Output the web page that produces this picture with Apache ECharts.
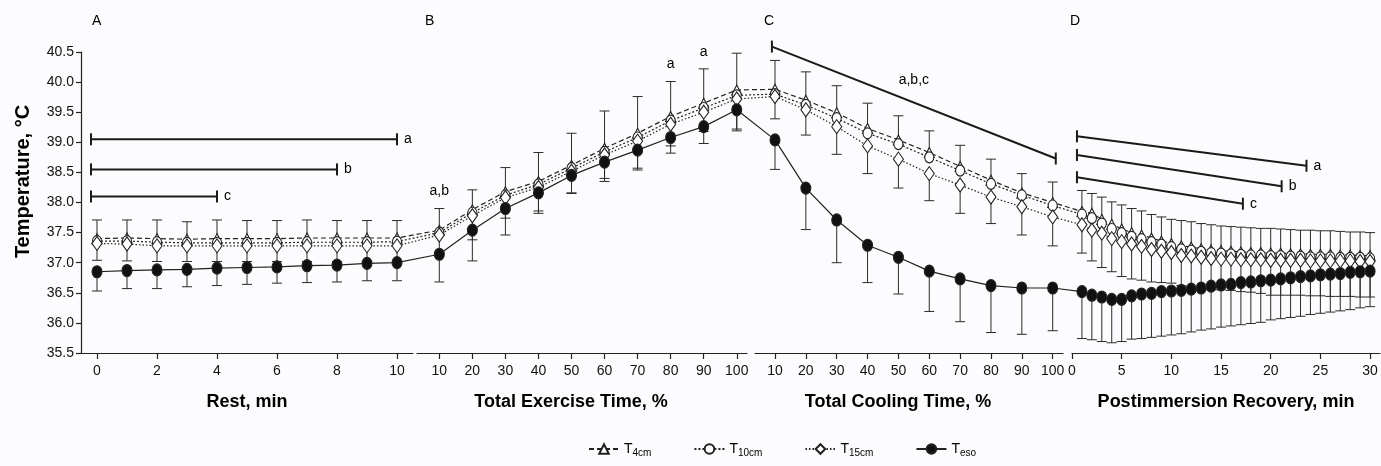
<!DOCTYPE html>
<html>
<head>
<meta charset="utf-8">
<title>Temperature</title>
<script src="https://cdn.jsdelivr.net/npm/echarts@6/dist/echarts.min.js"></script>
<style>
  html, body { margin: 0; padding: 0; background: #fcfcfe; }
  #chart { width: 1381px; height: 466px; }
</style>
</head>
<body>
<div id="chart"></div>
<script>
// x values of each phase
var restMin = [0, 1, 2, 3, 4, 5, 6, 7, 8, 9, 10];
var exercisePct = [10, 20, 30, 40, 50, 60, 70, 80, 90, 100];
var coolingPct = [10, 20, 30, 40, 50, 60, 70, 80, 90, 100];
var recoveryMin = [1, 2, 3, 4, 5, 6, 7, 8, 9, 10, 11, 12, 13, 14, 15, 16, 17, 18, 19, 20, 21, 22, 23, 24, 25, 26, 27, 28, 29, 30];

// tick labels
var restTicks = [0, 2, 4, 6, 8, 10];
var pctTicks = [10, 20, 30, 40, 50, 60, 70, 80, 90, 100];
var recoveryTicks = [0, 5, 10, 15, 20, 25, 30];

// T 4cm (error bar upward)
var t4Rest = [37.40, 37.41, 37.40, 37.39, 37.40, 37.40, 37.40, 37.41, 37.41, 37.41, 37.41];
var t4RestSd = [0.31, 0.30, 0.31, 0.29, 0.31, 0.30, 0.30, 0.30, 0.29, 0.29, 0.29];
var t4Exercise = [37.54, 37.88, 38.18, 38.35, 38.62, 38.90, 39.15, 39.43, 39.65, 39.87];
var t4ExerciseSd = [0.36, 0.33, 0.40, 0.48, 0.53, 0.62, 0.61, 0.58, 0.57, 0.61];
var t4Cooling = [39.88, 39.70, 39.49, 39.23, 39.04, 38.83, 38.60, 38.37, 38.16, 38.00];
var t4CoolingSd = [0.48, 0.47, 0.45, 0.42, 0.40, 0.36, 0.35, 0.35, 0.32, 0.34];
var t4Recovery = [37.85, 37.82, 37.72, 37.64, 37.56, 37.50, 37.46, 37.41, 37.36, 37.32, 37.28, 37.26, 37.23, 37.21, 37.20,
  37.19, 37.18, 37.17, 37.17, 37.16, 37.16, 37.15, 37.15, 37.14, 37.14, 37.14, 37.13, 37.13, 37.12, 37.12];
var t4RecoverySd = [0.35, 0.33, 0.37, 0.37, 0.40, 0.40, 0.40, 0.39, 0.40, 0.40, 0.42, 0.42, 0.42, 0.42, 0.41,
  0.41, 0.41, 0.41, 0.40, 0.41, 0.40, 0.40, 0.39, 0.40, 0.39, 0.39, 0.39, 0.38, 0.39, 0.38];

// T 10cm
var t10Rest = [37.36, 37.36, 37.34, 37.33, 37.33, 37.33, 37.33, 37.34, 37.34, 37.34, 37.35];
var t10Exercise = [37.50, 37.83, 38.12, 38.30, 38.57, 38.84, 39.08, 39.36, 39.57, 39.78];
var t10Cooling = [39.80, 39.62, 39.40, 39.15, 38.97, 38.75, 38.53, 38.31, 38.12, 37.95];
var t10Recovery = [37.80, 37.74, 37.65, 37.56, 37.49, 37.43, 37.39, 37.34, 37.30, 37.26, 37.22, 37.20, 37.18, 37.16, 37.15,
  37.14, 37.13, 37.12, 37.12, 37.11, 37.11, 37.10, 37.10, 37.09, 37.09, 37.09, 37.08, 37.08, 37.08, 37.07];

// T 15cm (error bar downward)
var t15Rest = [37.32, 37.31, 37.28, 37.28, 37.28, 37.28, 37.28, 37.28, 37.28, 37.28, 37.28];
var t15RestSd = [0.28, 0.28, 0.26, 0.26, 0.26, 0.26, 0.26, 0.26, 0.26, 0.26, 0.26];
var t15Exercise = [37.46, 37.78, 38.08, 38.25, 38.52, 38.79, 39.02, 39.30, 39.50, 39.72];
var t15ExerciseSd = [0.33, 0.40, 0.34, 0.39, 0.36, 0.39, 0.45, 0.36, 0.32, 0.50];
var t15Cooling = [39.76, 39.54, 39.26, 38.94, 38.72, 38.48, 38.29, 38.09, 37.93, 37.76];
var t15CoolingSd = [0.37, 0.42, 0.46, 0.46, 0.48, 0.45, 0.47, 0.44, 0.47, 0.48];
var t15Recovery = [37.63, 37.54, 37.49, 37.40, 37.35, 37.31, 37.27, 37.22, 37.19, 37.17, 37.12, 37.11, 37.09, 37.07, 37.06,
  37.06, 37.05, 37.05, 37.05, 37.04, 37.04, 37.04, 37.04, 37.03, 37.03, 37.03, 37.03, 37.03, 37.02, 37.02];
var t15RecoverySd = [0.47, 0.51, 0.57, 0.55, 0.58, 0.58, 0.56, 0.54, 0.52, 0.51, 0.50, 0.52, 0.52, 0.52, 0.51,
  0.52, 0.53, 0.54, 0.56, 0.58, 0.58, 0.58, 0.58, 0.58, 0.58, 0.59, 0.59, 0.59, 0.59, 0.59];

// T eso (error bar downward)
var esoRest = [36.85, 36.87, 36.88, 36.89, 36.91, 36.92, 36.93, 36.95, 36.96, 36.99, 37.00];
var esoRestSd = [0.32, 0.30, 0.31, 0.29, 0.29, 0.28, 0.27, 0.28, 0.28, 0.29, 0.30];
var esoExercise = [37.14, 37.54, 37.90, 38.16, 38.45, 38.67, 38.87, 39.08, 39.26, 39.54];
var esoExerciseSd = [0.46, 0.51, 0.44, 0.34, 0.30, 0.32, 0.33, 0.26, 0.28, 0.35];
var esoCooling = [39.04, 38.24, 37.71, 37.29, 37.09, 36.86, 36.73, 36.62, 36.58, 36.58];
var esoCoolingSd = [0.49, 0.69, 0.71, 0.62, 0.61, 0.67, 0.71, 0.78, 0.77, 0.71];
var esoRecovery = [36.52, 36.46, 36.43, 36.39, 36.39, 36.45, 36.48, 36.49, 36.52, 36.53, 36.54, 36.56, 36.58, 36.61, 36.63,
  36.64, 36.67, 36.68, 36.70, 36.71, 36.73, 36.75, 36.77, 36.78, 36.80, 36.81, 36.82, 36.84, 36.85, 36.86];
var esoRecoverySd = [0.78, 0.74, 0.74, 0.72, 0.70, 0.72, 0.74, 0.73, 0.74, 0.73, 0.72, 0.71, 0.70, 0.71, 0.70,
  0.69, 0.70, 0.69, 0.69, 0.66, 0.66, 0.66, 0.66, 0.64, 0.64, 0.63, 0.62, 0.62, 0.60, 0.59];

// significance brackets: panel, x1, y1, x2, y2, label
var brackets = [
  ['rest', -0.2, 39.05, 10, 39.05, 'a'],
  ['rest', -0.2, 38.55, 8, 38.55, 'b'],
  ['rest', -0.2, 38.10, 4, 38.10, 'c'],
  ['cooling', 9, 40.59, 101, 38.73, ''],
  ['recovery', 0.5, 39.10, 23.6, 38.61, 'a'],
  ['recovery', 0.5, 38.79, 21.1, 38.27, 'b'],
  ['recovery', 0.5, 38.42, 17.2, 37.98, 'c']
];
var markLabels = [
  ['exercise', 10, 38.19, 'a,b'],
  ['exercise', 80, 40.30, 'a'],
  ['exercise', 90, 40.50, 'a'],
  ['cooling', 55, 40.03, 'a,b,c']
];

var panels = [
  { id: 'rest', letter: 'A', letterX: 87, name: 'Rest, min', left: 81, right: 413, min: -0.533, max: 10.533, ticks: restTicks, namePad: 0 },
  { id: 'exercise', letter: 'B', letterX: 420, name: 'Total Exercise Time, %', left: 417, right: 747, min: 3.25, max: 103.1, ticks: pctTicks, namePad: 22 },
  { id: 'cooling', letter: 'C', letterX: 759, name: 'Total Cooling Time, %', left: 755, right: 1063, min: 3.52, max: 103.34, ticks: pctTicks, namePad: 22 },
  { id: 'recovery', letter: 'D', letterX: 1065, name: 'Postimmersion Recovery, min', left: 1072, right: 1380, min: 0, max: 31, ticks: recoveryTicks, namePad: 0 }
];
var panelIndex = { rest: 0, exercise: 1, cooling: 2, recovery: 3 };
var ALL = 4; // overlay grid that holds the data

var ink = '#222';
var fontFamily = 'Liberation Sans, Arial, sans-serif';

var chart = echarts.init(document.getElementById('chart'));

var grids = [], xAxes = [], yAxes = [];
panels.forEach(function (p, i) {
  grids.push({ left: p.left, width: p.right - p.left, top: 52, height: 301 });
  xAxes.push({
    gridIndex: i, type: 'value', min: p.min, max: p.max,
    axisLine: { show: true, lineStyle: { color: ink, width: 1.2 } },
    axisTick: { show: true, customValues: p.ticks, length: 6, lineStyle: { color: ink, width: 1.2 } },
    axisLabel: { customValues: p.ticks, fontSize: 14, color: '#111', margin: 11 },
    splitLine: { show: false },
    name: p.name, nameLocation: 'middle', nameGap: 40,
    nameTextStyle: { fontSize: 18, fontWeight: 'bold', color: '#000', padding: [0, p.namePad, 0, 0] }
  });
  yAxes.push({ gridIndex: i, type: 'value', min: 35.5, max: 40.5, show: false });
});
grids.push({ left: 81, width: 1299, top: 52, height: 301 });
xAxes.push({ gridIndex: ALL, type: 'value', min: 0, max: 1, show: false });
yAxes.push({
  gridIndex: ALL, type: 'value', min: 35.5, max: 40.5, interval: 0.5,
  axisLine: { show: true, lineStyle: { color: ink, width: 1.2 } },
  axisTick: { show: true, length: 5, lineStyle: { color: ink, width: 1.2 } },
  axisLabel: { fontSize: 14, color: '#111', margin: 7, formatter: function (v) { return v.toFixed(1); } },
  splitLine: { show: false },
  name: 'Temperature, °C', nameLocation: 'middle', nameGap: 48,
  nameTextStyle: { fontSize: 20, fontWeight: 'bold', color: '#000', padding: [0, 0, 0, 42] }
});

chart.setOption({
  animation: false,
  backgroundColor: '#fcfcfe',
  textStyle: { fontFamily: fontFamily },
  title: panels.map(function (p) {
    return { text: p.letter, left: p.letterX, top: 9, textStyle: { fontSize: 14, fontWeight: 'normal', color: '#000' } };
  }),
  grid: grids,
  xAxis: xAxes,
  yAxis: yAxes
});

// place a phase value on the shared overlay axis, through the phase axis scale
function toAll(panelId, v) {
  var px = chart.convertToPixel({ xAxisIndex: panelIndex[panelId] }, v);
  return chart.convertFromPixel({ xAxisIndex: ALL }, px);
}

function joinPhases(rest, exercise, cooling, recovery, extra) {
  var out = [];
  [['rest', restMin, rest], ['exercise', exercisePct, exercise], ['cooling', coolingPct, cooling], ['recovery', recoveryMin, recovery]]
    .forEach(function (ph) {
      ph[1].forEach(function (x, i) {
        var row = [toAll(ph[0], x), ph[2][i]];
        if (extra) row.push(extra[ph[0]][i]);
        out.push(row);
      });
    });
  return out;
}

function errorBars(points, dir) {
  return {
    type: 'custom', xAxisIndex: ALL, yAxisIndex: ALL, silent: true, z: 1,
    data: points,
    renderItem: function (params, api) {
      var x = api.value(0), y = api.value(1), sd = api.value(2);
      var a = api.coord([x, y]);
      var b = api.coord([x, y + dir * sd]);
      var st = { stroke: '#2a2a2a', lineWidth: 1 };
      return {
        type: 'group', children: [
          { type: 'line', shape: { x1: a[0], y1: a[1], x2: b[0], y2: b[1] }, style: st },
          { type: 'line', shape: { x1: b[0] - 5, y1: b[1], x2: b[0] + 5, y2: b[1] }, style: st }
        ]
      };
    }
  };
}

function lineSeries(name, data, symbol, size, dash, fill, z) {
  return {
    name: name, type: 'line', xAxisIndex: ALL, yAxisIndex: ALL, z: z,
    data: data, symbol: symbol, symbolSize: size,
    lineStyle: { color: ink, width: 1.2, type: dash },
    itemStyle: { color: fill, borderColor: ink, borderWidth: 1.1 },
    emphasis: { disabled: true }
  };
}

var t4Data = joinPhases(t4Rest, t4Exercise, t4Cooling, t4Recovery,
  { rest: t4RestSd, exercise: t4ExerciseSd, cooling: t4CoolingSd, recovery: t4RecoverySd });
var t10Data = joinPhases(t10Rest, t10Exercise, t10Cooling, t10Recovery);
var t15Data = joinPhases(t15Rest, t15Exercise, t15Cooling, t15Recovery,
  { rest: t15RestSd, exercise: t15ExerciseSd, cooling: t15CoolingSd, recovery: t15RecoverySd });
var esoData = joinPhases(esoRest, esoExercise, esoCooling, esoRecovery,
  { rest: esoRestSd, exercise: esoExerciseSd, cooling: esoCoolingSd, recovery: esoRecoverySd });

var bracketData = brackets.map(function (b) {
  return [toAll(b[0], b[1]), b[2], toAll(b[0], b[3]), b[4]];
});
var labelData = markLabels.map(function (m) {
  return [toAll(m[0], m[1]), m[2]];
});

var subs = { T4cm: '4cm', T10cm: '10cm', T15cm: '15cm', Teso: 'eso' };

chart.setOption({
  legend: {
    data: ['T4cm', 'T10cm', 'T15cm', 'Teso'],
    left: 583, top: 437, itemWidth: 30, itemHeight: 12, itemGap: 42,
    formatter: function (name) { return '{t|T}{s|' + subs[name] + '}'; },
    textStyle: {
      color: '#000',
      rich: {
        t: { fontSize: 14, color: '#000' },
        s: { fontSize: 10, color: '#000', padding: [8, 0, 0, 0] }
      }
    }
  },
  series: [
    errorBars(t4Data, 1),
    errorBars(t15Data, -1),
    errorBars(esoData, -1),
    lineSeries('T4cm', t4Data, 'triangle', [10, 10], [5, 3], '#fff', 3),
    lineSeries('T10cm', t10Data, 'circle', [9, 11], [2, 2], '#fff', 3),
    lineSeries('T15cm', t15Data, 'diamond', [10, 14], [1.5, 2], '#fff', 3),
    lineSeries('Teso', esoData, 'circle', [10, 12], 'solid', '#111', 4),
    {
      type: 'custom', xAxisIndex: ALL, yAxisIndex: ALL, silent: true, z: 5,
      data: bracketData,
      renderItem: function (params, api) {
        var a = api.coord([api.value(0), api.value(1)]);
        var b = api.coord([api.value(2), api.value(3)]);
        var st = { stroke: '#1a1a1a', lineWidth: 2 };
        var kids = [
          { type: 'line', shape: { x1: a[0], y1: a[1], x2: b[0], y2: b[1] }, style: st },
          { type: 'line', shape: { x1: a[0], y1: a[1] - 6, x2: a[0], y2: a[1] + 6 }, style: st },
          { type: 'line', shape: { x1: b[0], y1: b[1] - 6, x2: b[0], y2: b[1] + 6 }, style: st }
        ];
        var txt = brackets[params.dataIndex][5];
        if (txt) {
          kids.push({ type: 'text', x: b[0] + 7, y: b[1], style: { text: txt, fontSize: 14, fontFamily: fontFamily, fill: '#000', align: 'left', verticalAlign: 'middle' } });
        }
        return { type: 'group', children: kids };
      }
    },
    {
      type: 'custom', xAxisIndex: ALL, yAxisIndex: ALL, silent: true, z: 5,
      data: labelData,
      renderItem: function (params, api) {
        var p = api.coord([api.value(0), api.value(1)]);
        return { type: 'text', x: p[0], y: p[1], style: { text: markLabels[params.dataIndex][3], fontSize: 14, fontFamily: fontFamily, fill: '#000', align: 'center', verticalAlign: 'middle' } };
      }
    }
  ]
});
</script>
</body>
</html>
